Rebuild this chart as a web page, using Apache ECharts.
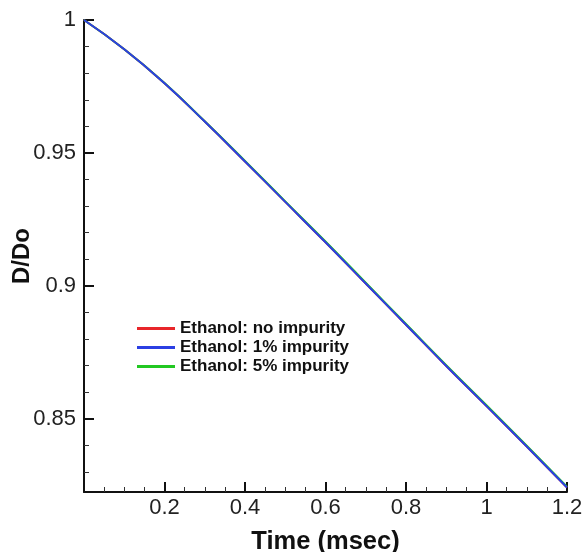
<!DOCTYPE html>
<html>
<head>
<meta charset="utf-8">
<script src="https://cdn.jsdelivr.net/npm/echarts@6/dist/echarts.min.js"></script>
<style>
html,body{margin:0;padding:0;background:#fff;}
#chart{width:585px;height:552px;}
</style>
</head>
<body>
<div id="chart"></div>
<script>
var timeMs = [0, 0.1, 0.2, 0.3, 0.4, 0.5, 0.6, 0.7, 0.8, 0.9, 1.0, 1.1, 1.2];
var noImpurity   = [1.0, 0.9890, 0.9762, 0.9618, 0.9468, 0.9316, 0.9164, 0.9009, 0.8854, 0.8699, 0.8548, 0.8396, 0.8242];
var imp1Percent  = [1.0, 0.9890, 0.9762, 0.9618, 0.9468, 0.9316, 0.9164, 0.9009, 0.8854, 0.8699, 0.8548, 0.8396, 0.8242];
var imp5Percent  = [1.0, 0.9890, 0.9763, 0.9619, 0.9470, 0.9318, 0.9167, 0.9012, 0.8857, 0.8702, 0.8551, 0.8399, 0.8245];
var yMajorTicks = [0.85, 0.9, 0.95, 1];
var yMinorTicks = [0.83, 0.84, 0.86, 0.87, 0.88, 0.89, 0.91, 0.92, 0.93, 0.94, 0.96, 0.97, 0.98, 0.99];
var seriesNames = ['Ethanol: no impurity', 'Ethanol: 1% impurity', 'Ethanol: 5% impurity'];

function pairs(xs, ys){ return xs.map(function(x,i){ return [x, ys[i]]; }); }

var chart = echarts.init(document.getElementById('chart'));
var fontFam = 'Liberation Sans, Arial, sans-serif';
chart.setOption({
  backgroundColor: '#fff',
  animation: false,
  grid: { left: 84, right: 18, top: 20, bottom: 60, containLabel: false, outerBoundsMode: 'none' },
  legend: {
    orient: 'vertical',
    left: 132, top: 315,
    itemWidth: 38, itemHeight: 3, itemGap: 2,
    icon: 'rect',
    data: [
      { name: seriesNames[0], itemStyle: { color: '#e8262a' } },
      { name: seriesNames[1], itemStyle: { color: '#2b3fe3' } },
      { name: seriesNames[2], itemStyle: { color: '#22c822' } }
    ],
    textStyle: { fontFamily: fontFam, fontWeight: 'bold', fontSize: 17, color: '#111', lineHeight: 16.5, padding: [0,0,0,0] }
  },
  xAxis: {
    type: 'value', min: 0, max: 1.2, interval: 0.2,
    name: 'Time (msec)', nameLocation: 'middle', nameGap: 37, nameMoveOverlap: false,
    nameTextStyle: { fontFamily: fontFam, fontWeight: 'bold', fontSize: 25.5, color: '#111' },
    axisLine: { show: true, lineStyle: { color: '#111', width: 2 } },
    axisTick: { show: true, inside: true, length: 10, lineStyle: { color: '#111', width: 2 } },
    minorTick: { show: true, splitNumber: 4, length: 5, lineStyle: { color: '#333', width: 1 } },
    splitLine: { show: false },
    axisLabel: { margin: 5, fontFamily: fontFam, fontSize: 22, color: '#222', showMinLabel: false,
      formatter: function(v){ return v === 0 ? '' : String(Math.round(v*10)/10); } }
  },
  yAxis: [{
    type: 'value', min: 0.8225, max: 1,
    name: 'D/Do', nameLocation: 'middle', nameGap: 50, nameMoveOverlap: false,
    nameTextStyle: { fontFamily: fontFam, fontWeight: 'bold', fontSize: 24, color: '#111' },
    axisLine: { show: true, lineStyle: { color: '#111', width: 2 } },
    axisTick: { show: true, inside: true, length: 10, customValues: yMajorTicks, lineStyle: { color: '#111', width: 2 } },
    splitLine: { show: false },
    axisLabel: { margin: 8, fontFamily: fontFam, fontSize: 22, color: '#222', customValues: yMajorTicks,
      formatter: function(v){ return String(Math.round(v*100)/100); } }
  }, {
    type: 'value', min: 0.8225, max: 1, position: 'left', offset: 0,
    axisLine: { show: false },
    axisTick: { show: true, inside: true, length: 5, customValues: yMinorTicks, lineStyle: { color: '#333', width: 1 } },
    axisLabel: { show: false },
    splitLine: { show: false }
  }],
  series: [
    { name: seriesNames[0], type: 'line', data: pairs(timeMs, noImpurity), smooth: 0.5, showSymbol: false,
      lineStyle: { color: '#e8262a', width: 2 }, itemStyle: { color: '#e8262a' } },
    { name: seriesNames[2], type: 'line', data: pairs(timeMs, imp5Percent), smooth: 0.5, showSymbol: false,
      lineStyle: { color: '#22c822', width: 2 }, itemStyle: { color: '#22c822' } },
    { name: seriesNames[1], type: 'line', data: pairs(timeMs, imp1Percent), smooth: 0.5, showSymbol: false,
      lineStyle: { color: '#2b3fe3', width: 2 }, itemStyle: { color: '#2b3fe3' } }
  ]
});
</script>
</body>
</html>
